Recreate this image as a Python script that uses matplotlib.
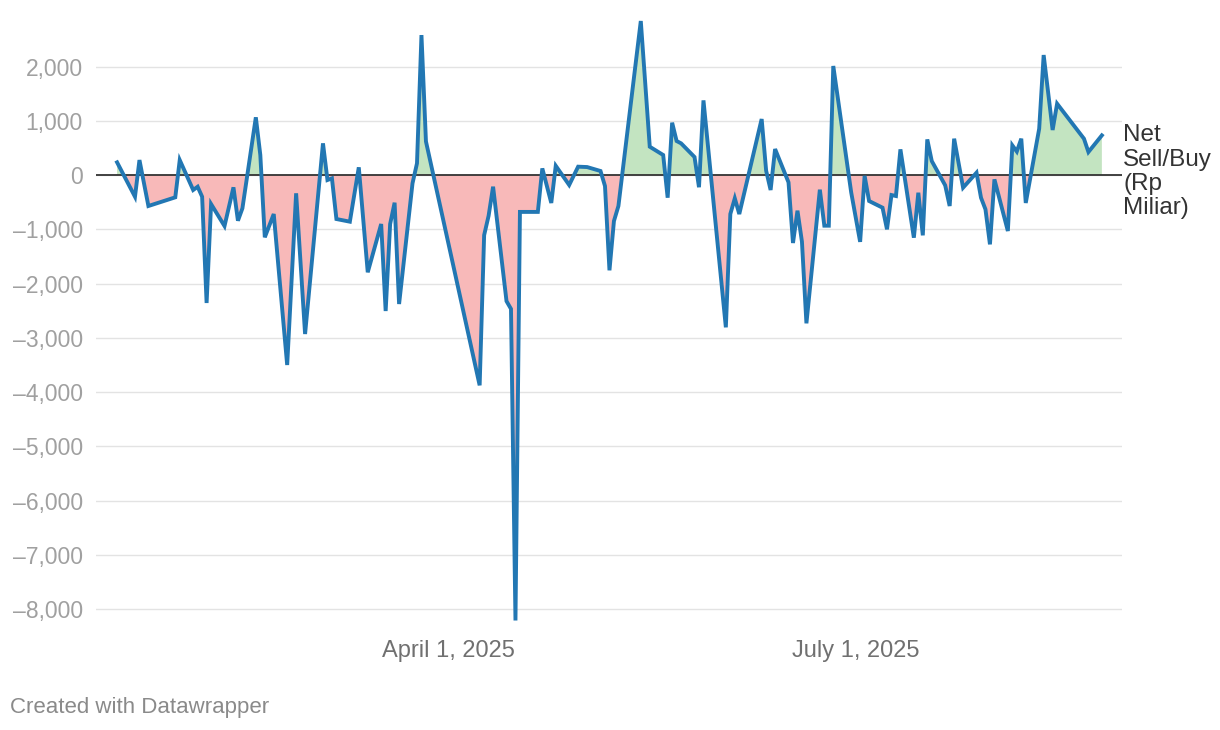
import numpy as np
import pandas as pd
import matplotlib
matplotlib.use("Agg")
import matplotlib.pyplot as plt
from matplotlib.ticker import FuncFormatter

# foreign net sell/buy, Rp miliar
dates = [
    "2025-01-17", "2025-01-21", "2025-01-22", "2025-01-24", "2025-01-30", "2025-01-31",
    "2025-02-03", "2025-02-04", "2025-02-05", "2025-02-06", "2025-02-07", "2025-02-10",
    "2025-02-12", "2025-02-13", "2025-02-14", "2025-02-17", "2025-02-18", "2025-02-19",
    "2025-02-21", "2025-02-24", "2025-02-26", "2025-02-28", "2025-03-04", "2025-03-05",
    "2025-03-06", "2025-03-07", "2025-03-10", "2025-03-12", "2025-03-14", "2025-03-17",
    "2025-03-18", "2025-03-19", "2025-03-20", "2025-03-21", "2025-03-24", "2025-03-25",
    "2025-03-26", "2025-03-27", "2025-04-08", "2025-04-09", "2025-04-10", "2025-04-11",
    "2025-04-14", "2025-04-15", "2025-04-16", "2025-04-17", "2025-04-21", "2025-04-22",
    "2025-04-24", "2025-04-25", "2025-04-28", "2025-04-30", "2025-05-02", "2025-05-05",
    "2025-05-06", "2025-05-07", "2025-05-08", "2025-05-09", "2025-05-14", "2025-05-16",
    "2025-05-19", "2025-05-20", "2025-05-21", "2025-05-22", "2025-05-23", "2025-05-26",
    "2025-05-27", "2025-05-28", "2025-06-02", "2025-06-03", "2025-06-04", "2025-06-05",
    "2025-06-10", "2025-06-11", "2025-06-12", "2025-06-13", "2025-06-16", "2025-06-17",
    "2025-06-18", "2025-06-19", "2025-06-20", "2025-06-23", "2025-06-24", "2025-06-25",
    "2025-06-26", "2025-06-30", "2025-07-02", "2025-07-03", "2025-07-04", "2025-07-07",
    "2025-07-08", "2025-07-09", "2025-07-10", "2025-07-11", "2025-07-14", "2025-07-15",
    "2025-07-16", "2025-07-17", "2025-07-18", "2025-07-21", "2025-07-22", "2025-07-23",
    "2025-07-25", "2025-07-28", "2025-07-29", "2025-07-30", "2025-07-31", "2025-08-01",
    "2025-08-04", "2025-08-05", "2025-08-06", "2025-08-07", "2025-08-08", "2025-08-11",
    "2025-08-12", "2025-08-14", "2025-08-15", "2025-08-21", "2025-08-22", "2025-08-25",
]
net = [
    234, -400, 276, -571, -411, 276,
    -276, -216, -400, -2359, -535, -940,
    -227, -842, -614, 1064, 369, -1148,
    -719, -3502, -337, -2931, 584, -92,
    -61, -811, -860, 142, -1793, -903,
    -2507, -903, -510, -2378, -153, 216,
    2580, 620, -3877, -1109, -751, -215,
    -2325, -2468, -8212, -680, -680, 122,
    -515, 170, -184, 154, 147, 74,
    -203, -1757, -848, -571, 2839, 522,
    369, -418, 965, 627, 584, 332,
    -225, 1376, -2808, -719, -430, -719,
    1032, 80, -276, 479, -135, -1253,
    -657, -1229, -2734, -270, -934, -934,
    2010, -320, -1232, -15, -479, -602,
    -1001, -369, -387, 473, -1155, -326,
    -1112, 657, 258, -190, -571, 670,
    -233, 43, -418, -633, -1278, -80,
    -1032, 547, 433, 670, -515, 854,
    2212, 830, 1315, 670, 424, 731,
]
y_ticks = [2000, 1000, 0, -1000, -2000, -3000, -4000, -5000, -6000, -7000, -8000]
x_ticks = ["2025-04-01", "2025-07-01"]
x_labels = ["April 1, 2025", "July 1, 2025"]
series_label = "Net\nSell/Buy\n(Rp\nMiliar)"

x = pd.to_datetime(dates)
y = np.array(net, dtype=float)

plt.rcParams["font.family"] = ["Liberation Sans", "DejaVu Sans"]

fig = plt.figure(figsize=(12.2, 7.3), dpi=100)
ax = fig.add_axes([96 / 1220, 1 - 625 / 730, (1122 - 96) / 1220, (625 - 15) / 730])

ax.fill_between(x, y, 0, where=y >= 0, interpolate=True, color="#c3e4c1", lw=0)
ax.fill_between(x, y, 0, where=y <= 0, interpolate=True, color="#f8b9b9", lw=0)
ax.plot(x, y, color="#2277b3", lw=2.8, solid_joinstyle="miter", zorder=4)
ax.axhline(0, color="#333333", lw=1.3, zorder=3)

ax.set_xlim(pd.Timestamp("2025-01-12 07:00"), pd.Timestamp("2025-08-29 12:00"))
ax.set_ylim(-8295, 2950)

ax.set_yticks(y_ticks)
ax.yaxis.set_major_formatter(FuncFormatter(lambda v, p: f"{v:,.0f}".replace("-", "\u2013")))
ax.set_xticks(pd.to_datetime(x_ticks))
ax.set_xticklabels(x_labels)
ax.grid(axis="y", color="#e3e3e3", lw=1)
ax.set_axisbelow(True)
for s in ax.spines.values():
    s.set_visible(False)
ax.tick_params(axis="y", length=0, pad=9.5, labelsize=16.5, labelcolor="#a0a0a0")
ax.tick_params(axis="x", length=0, pad=11, labelsize=17, labelcolor="#707070")

ax.text(1.001, (0 + 8295) / (2950 + 8295) + 0.083, series_label, transform=ax.transAxes,
        ha="left", va="top", fontsize=17.5, color="#333333", linespacing=1.13)

fig.text(10 / 1220, 1 - 707.5 / 730, "Created with Datawrapper", ha="left", va="center",
         fontsize=16, color="#8a8a8a")

fig.savefig("out.png", dpi=100)
